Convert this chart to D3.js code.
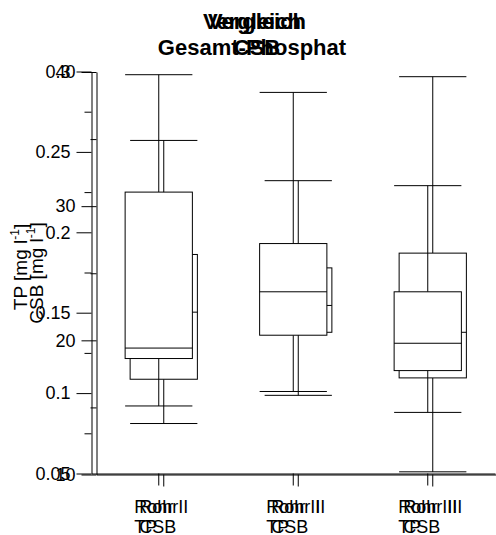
<!DOCTYPE html>
<html>
<head>
<meta charset="utf-8">
<script src="https://cdn.jsdelivr.net/npm/d3@7"></script>
<style>
  body { margin: 0; background: #fff; }
  svg { display: block; }
  text { font-family: "Liberation Sans", Arial, Helvetica, sans-serif; fill: #000; }
</style>
</head>
<body>
<svg id="chart" width="496" height="535"></svg>
<script>
// Sampling points
const groups = ["Rohr I", "Rohr II", "Rohr III"];

// Total phosphorus (TP) box statistics per pipe [mg/l]
const tpLow  = [0.092, 0.101, 0.088];
const tpQ1   = [0.1215, 0.136, 0.114];
const tpMed  = [0.128, 0.163, 0.131];
const tpQ3   = [0.225, 0.193, 0.163];
const tpHigh = [0.298, 0.287, 0.229];

// COD (CSB) box statistics per pipe [mg/l]
const csbLow  = [13.8, 15.9, 10.2];
const csbQ1   = [17.1, 20.6, 17.2];
const csbMed  = [22.1, 22.6, 20.6];
const csbQ3   = [26.4, 25.4, 26.5];
const csbHigh = [34.9, 31.9, 39.65];

// Axis ticks
const tpTicks = [0.05, 0.1, 0.15, 0.2, 0.25, 0.3];
const tpTickLabels = ["0.05", "0.1", "0.15", "0.2", "0.25", "0.3"];
const tpMinor = [0.075, 0.125, 0.175, 0.225, 0.275];
const csbTicks = [10, 20, 30, 40];
const csbTickLabels = ["10", "20", "30", "40"];
const csbMinor = [15, 25, 35];

const svg = d3.select("#chart");
const FONT = '"Liberation Sans", Arial, Helvetica, sans-serif';

function panel(cfg) {
  const g = svg.append("g");
  const x = d3.scaleBand().domain(groups).range(cfg.xRange).padding(0);
  const y = d3.scaleLinear().domain(cfg.domain).range(cfg.yRange);
  const ax = cfg.xRange[0];
  const axY = cfg.yRange[0];

  // y axis: major ticks with labels
  const yMaj = g.append("g")
    .attr("transform", `translate(${ax},0)`)
    .call(d3.axisLeft(y).tickValues(cfg.ticks).tickSize(15).tickSizeOuter(0)
      .tickPadding(6).tickFormat((d, i) => cfg.tickLabels[i]));
  yMaj.attr("font-family", FONT).attr("font-size", 18);
  yMaj.selectAll("line, path").attr("stroke", "#000");
  yMaj.selectAll("text").attr("fill", "#000");

  // y axis: minor ticks
  const yMin = g.append("g")
    .attr("transform", `translate(${ax},0)`)
    .call(d3.axisLeft(y).tickValues(cfg.minor).tickSize(cfg.minorSize).tickFormat(""));
  yMin.select(".domain").remove();
  yMin.selectAll("line").attr("stroke", "#000");

  // x axis
  const xAx = g.append("g")
    .attr("transform", `translate(0,${axY})`)
    .call(d3.axisBottom(x).tickSize(12).tickSizeOuter(0).tickFormat(""));
  xAx.selectAll("line, path").attr("stroke", "#000");

  // two-line category labels, left-aligned block centred under tick
  groups.forEach((name, i) => {
    const cx = x(name) + x.bandwidth() / 2;
    const t = g.append("text").attr("font-size", 18).attr("text-anchor", "start");
    const l1 = t.append("tspan").attr("y", cfg.labelY).text(name);
    const l2 = t.append("tspan").attr("y", cfg.labelY + 19.5).text(cfg.sub);
    const w = Math.max(l1.node().getComputedTextLength(), l2.node().getComputedTextLength());
    l1.attr("x", cx - w / 2);
    l2.attr("x", cx - w / 2);
  });

  // box plots
  const bw = x.bandwidth() * 0.5;
  groups.forEach((name, i) => {
    const cx = x(name) + x.bandwidth() / 2;
    const b = g.append("g").attr("stroke", "#000").attr("stroke-width", 1);
    b.append("line").attr("x1", cx).attr("x2", cx)
      .attr("y1", y(cfg.high[i])).attr("y2", y(cfg.q3[i]));
    b.append("line").attr("x1", cx).attr("x2", cx)
      .attr("y1", y(cfg.q1[i])).attr("y2", y(cfg.low[i]));
    b.append("line").attr("x1", cx - bw / 2).attr("x2", cx + bw / 2)
      .attr("y1", y(cfg.high[i])).attr("y2", y(cfg.high[i]));
    b.append("line").attr("x1", cx - bw / 2).attr("x2", cx + bw / 2)
      .attr("y1", y(cfg.low[i])).attr("y2", y(cfg.low[i]));
    b.append("rect").attr("x", cx - bw / 2).attr("width", bw)
      .attr("y", y(cfg.q3[i])).attr("height", y(cfg.q1[i]) - y(cfg.q3[i]))
      .attr("fill", "#fff");
    b.append("line").attr("x1", cx - bw / 2).attr("x2", cx + bw / 2)
      .attr("y1", y(cfg.med[i])).attr("y2", y(cfg.med[i]));
  });

  // title
  const title = g.append("text").attr("font-size", 22).attr("font-weight", "bold")
    .attr("text-anchor", "middle");
  title.append("tspan").attr("x", cfg.titleX).attr("y", 29).text(cfg.title[0]);
  title.append("tspan").attr("x", cfg.titleX).attr("y", 55).text(cfg.title[1]);

  // y axis label with superscript unit
  const yl = g.append("text").attr("font-size", 19).attr("text-anchor", "middle")
    .attr("transform", `translate(${cfg.yLabelX},${cfg.yLabelY}) rotate(-90)`);
  yl.append("tspan").text(cfg.yLabel + " [mg l");
  yl.append("tspan").attr("font-size", 12).attr("dy", -8).text("-1");
  yl.append("tspan").attr("dy", 8).text("]");
}

// COD panel underneath, TP panel on top
panel({
  xRange: [96.5, 500], yRange: [474.5, 72], domain: [10, 40],
  ticks: csbTicks, tickLabels: csbTickLabels, minor: csbMinor, minorSize: 6,
  low: csbLow, q1: csbQ1, med: csbMed, q3: csbQ3, high: csbHigh,
  sub: "CSB", labelY: 513, title: ["Vergleich", "CSB"], titleX: 257,
  yLabel: "CSB", yLabelX: 43, yLabelY: 273
});
panel({
  xRange: [91.5, 495], yRange: [473.5, 71.5], domain: [0.05, 0.3],
  ticks: tpTicks, tickLabels: tpTickLabels, minor: tpMinor, minorSize: 7,
  low: tpLow, q1: tpQ1, med: tpMed, q3: tpQ3, high: tpHigh,
  sub: "TP", labelY: 513, title: ["Vergleich", "Gesamt-Phosphat"], titleX: 252,
  yLabel: "TP", yLabelX: 27, yLabelY: 267
});
</script>
</body>
</html>
